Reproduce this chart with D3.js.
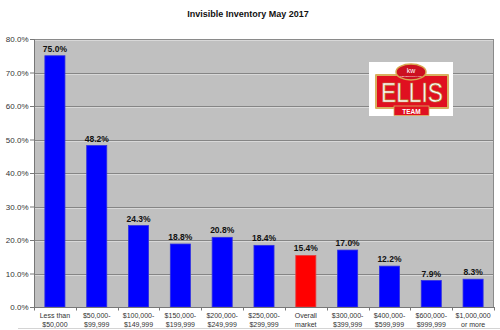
<!DOCTYPE html>
<html>
<head>
<meta charset="utf-8">
<script src="https://cdn.jsdelivr.net/npm/d3@7"></script>
<style>
  html, body { margin: 0; padding: 0; background: #fff; }
  svg { display: block; font-family: Arial, "Liberation Sans", sans-serif; }
</style>
</head>
<body>
<svg id="chart" width="500" height="330"></svg>
<script>
// Price bands (two-line labels) and their invisible-inventory share, in percent
const categories = [
  ["Less than", "$50,000"],
  ["$50,000-", "$99,999"],
  ["$100,000-", "$149,999"],
  ["$150,000-", "$199,999"],
  ["$200,000-", "$249,999"],
  ["$250,000-", "$299,999"],
  ["Overall", "market"],
  ["$300,000-", "$399,999"],
  ["$400,000-", "$599,999"],
  ["$600,000-", "$999,999"],
  ["$1,000,000", "or more"]
];
const values = [75.0, 48.2, 24.3, 18.8, 20.8, 18.4, 15.4, 17.0, 12.2, 7.9, 8.3];
const highlighted = ["Overall"];
const yTicks = [0, 10, 20, 30, 40, 50, 60, 70, 80];
const title = "Invisible Inventory May 2017";

const svg = d3.select("#chart");
const W = 500, H = 330;
const plot = { left: 34, right: 494, top: 39, bottom: 307 };

const keys = categories.map(c => c.join(" "));
const x = d3.scaleBand().domain(keys).range([plot.left, plot.right]).paddingInner(0.52).paddingOuter(0.26);
const xCat = d3.scaleBand().domain(keys).range([plot.left, plot.right]);
const y = d3.scaleLinear().domain([0, 80]).range([plot.bottom, plot.top]);

// Title
svg.append("text")
  .attr("x", 248).attr("y", 17)
  .attr("text-anchor", "middle")
  .attr("font-size", 9).attr("font-weight", "bold")
  .attr("fill", "#111")
  .text(title);

// Plot background
svg.append("rect")
  .attr("x", plot.left).attr("y", plot.top)
  .attr("width", plot.right - plot.left).attr("height", plot.bottom - plot.top)
  .attr("fill", "#c0c0c0");

// Gridlines with a soft highlight beneath each one
const grid = svg.append("g");
yTicks.filter(t => t > 0).forEach(t => {
  const yy = Math.round(y(t)) + 0.5;
  grid.append("line").attr("x1", plot.left).attr("x2", plot.right)
    .attr("y1", yy).attr("y2", yy).attr("stroke", "#858585");
  grid.append("line").attr("x1", plot.left).attr("x2", plot.right)
    .attr("y1", yy + 1).attr("y2", yy + 1).attr("stroke", "#d8d8d8");
});

// Plot border
svg.append("rect")
  .attr("x", plot.left + 0.5).attr("y", plot.top + 0.5)
  .attr("width", plot.right - plot.left - 1).attr("height", plot.bottom - plot.top)
  .attr("fill", "none").attr("stroke", "#8a8a8a");

// Bars
svg.append("g").selectAll("rect")
  .data(values)
  .join("rect")
  .attr("x", (d, i) => x(keys[i]))
  .attr("y", d => y(d))
  .attr("width", x.bandwidth())
  .attr("height", d => y(0) - y(d))
  .attr("fill", (d, i) => highlighted.includes(categories[i][0]) ? "#ff0000" : "#0000ff")
  .attr("stroke", (d, i) => highlighted.includes(categories[i][0]) ? "#e04040" : "#3030e0")
  .attr("stroke-width", 0.8);

// Value labels
svg.append("g").selectAll("text")
  .data(values)
  .join("text")
  .attr("x", (d, i) => x(keys[i]) + x.bandwidth() / 2)
  .attr("y", d => y(d) - 4)
  .attr("text-anchor", "middle")
  .attr("font-size", 8.5).attr("font-weight", "bold")
  .attr("fill", "#111")
  .text(d => d.toFixed(1) + "%");

// Y axis
const yAxis = svg.append("g")
  .attr("transform", `translate(${plot.left},0)`)
  .call(d3.axisLeft(y).tickValues(yTicks).tickSize(4).tickPadding(1.5)
    .tickFormat(d => d.toFixed(1) + "%"));
yAxis.select(".domain").attr("stroke", "#777");
yAxis.selectAll(".tick line").attr("stroke", "#777");
yAxis.selectAll(".tick text").attr("font-size", 8).attr("fill", "#333")
  .attr("font-family", "Arial, 'Liberation Sans', sans-serif");

// X axis with tick marks between categories
const xAxis = svg.append("g")
  .attr("transform", `translate(0,${plot.bottom})`);
xAxis.append("line").attr("x1", plot.left).attr("x2", plot.right)
  .attr("y1", 0.5).attr("y2", 0.5).attr("stroke", "#777");
xAxis.selectAll("line.sep")
  .data(keys.concat(["end"]))
  .join("line")
  .attr("class", "sep")
  .attr("x1", (d, i) => Math.round(i < keys.length ? xCat(d) : plot.right) + 0.5)
  .attr("x2", (d, i) => Math.round(i < keys.length ? xCat(d) : plot.right) + 0.5)
  .attr("y1", 0).attr("y2", 3.5)
  .attr("stroke", "#777");

const labels = xAxis.selectAll("text.cat")
  .data(categories)
  .join("text")
  .attr("class", "cat")
  .attr("text-anchor", "middle")
  .attr("font-size", 7).attr("fill", "#333")
  .attr("x", (d, i) => xCat(keys[i]) + xCat.bandwidth() / 2);
labels.append("tspan").attr("y", 11).attr("x", (d, i) => xCat(keys[i]) + xCat.bandwidth() / 2).text(d => d[0]);
labels.append("tspan").attr("y", 20).attr("x", (d, i) => xCat(keys[i]) + xCat.bandwidth() / 2).text(d => d[1]);

// Faint rule along the bottom edge
svg.append("line").attr("x1", 18).attr("x2", W).attr("y1", 328.5).attr("y2", 328.5)
  .attr("stroke", "#d4d4d4");

// Team badge
const logo = svg.append("g").attr("transform", "translate(369,62)");
logo.append("rect").attr("width", 84).attr("height", 54).attr("fill", "#fff");
logo.append("rect").attr("x", 6).attr("y", 12).attr("width", 74).attr("height", 35)
  .attr("fill", "#d8b060").attr("rx", 1);
logo.append("rect").attr("x", 8).attr("y", 14).attr("width", 70).attr("height", 31)
  .attr("fill", "#e01020");
logo.append("rect").attr("x", 25).attr("y", 44).attr("width", 35).attr("height", 9.5)
  .attr("fill", "#e01020").attr("stroke", "#d8b060").attr("stroke-width", 0.8);
logo.append("ellipse").attr("cx", 42).attr("cy", 10).attr("rx", 15).attr("ry", 8)
  .attr("fill", "#cc1020").attr("stroke", "#d8a850").attr("stroke-width", 1.5);
logo.append("text").attr("x", 42).attr("y", 11).attr("text-anchor", "middle")
  .attr("font-size", 7).attr("fill", "#fff").text("kw");
logo.append("text").attr("x", 42).attr("y", 15.2).attr("text-anchor", "middle")
  .attr("font-size", 2.5).attr("fill", "#fff").text("KELLERWILLIAMS");
logo.append("text")
  .attr("transform", "translate(43,40) scale(1,1.15)")
  .attr("text-anchor", "middle")
  .attr("font-size", 24).attr("fill", "#fff")
  .attr("stroke", "#b88838").attr("stroke-width", 0.6)
  .attr("textLength", 62).attr("lengthAdjust", "spacingAndGlyphs")
  .attr("font-family", "'Liberation Sans Narrow', Arial, sans-serif")
  .text("ELLIS");
logo.append("text").attr("x", 42.5).attr("y", 52).attr("text-anchor", "middle")
  .attr("font-size", 6.5).attr("font-weight", "bold").attr("fill", "#fff")
  .text("TEAM");
</script>
</body>
</html>
